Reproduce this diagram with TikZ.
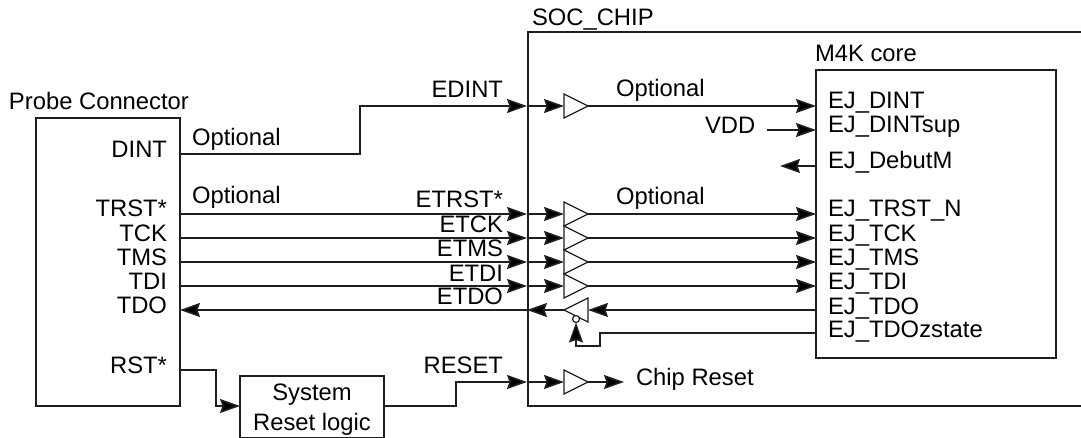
\documentclass[tikz,border=0pt]{standalone}
\usepackage{fontspec}
\setmainfont{Liberation Sans}
\usetikzlibrary{arrows.meta,shapes.geometric,positioning}
\definecolor{ink}{HTML}{1F1F1F}
\tikzset{
  x=1pt,y=-1pt,
  every node/.style={font=\fontsize{23.8}{26}\selectfont,text=black,inner sep=0pt,outer sep=0pt},
  boxed/.style={draw=ink,line width=1.6pt,rectangle,minimum width=#1},
  wire/.style={draw=ink,line width=1.6pt},
  arr/.style={wire,-{Stealth[length=20pt,width=14pt,inset=2.5pt,fill=black]}},
  buf/.style={draw=ink,line width=1.2pt,isosceles triangle,isosceles triangle apex angle=90,isosceles triangle stretches,minimum width=24pt,minimum height=24pt,anchor=lower side,inner sep=0pt,fill=white},
  bufl/.style={buf,shape border rotate=180},
  lab/.style={anchor=base west},
  labr/.style={anchor=base east},
  labc/.style={anchor=base},
}
\begin{document}
\begin{tikzpicture}
\useasboundingbox (0,0) rectangle (1081,438);
\clip (0,0) rectangle (1081,438);
% boxes
\node[boxed=144pt,minimum height=288pt,anchor=north west] (probe) at (36,118) {};
\node[boxed=560pt,minimum height=374pt,anchor=north west] (soc) at (528,32) {};
\node[boxed=240pt,minimum height=288pt,anchor=north west] (core) at (816,70) {};
\node[boxed=144pt,minimum height=62pt,anchor=north west,align=center] (sys) at (240,376) {};
\node[labc] (systxt1) at (312,400) {System};
\node[labc] (systxt2) at (312,430) {Reset logic};
% titles
\node[lab] (tsoc) at (532,26) {SOC\_CHIP};
\node[lab] (tcore) at (815,62) {M4K core};
\node[lab] (tprobe) at (9,110) {Probe Connector};
% probe pins
\foreach \n/\y/\t in {DINT/158/DINT,TRST/217/TRST*,TCK/241.5/TCK,TMS/265.5/TMS,TDI/289/TDI,TDO/313/TDO,RST/373/RST*}
  \node[labr] (l\n) at (167,\y) {\t};
% core pins
\foreach \n/\y/\t in {DINT/109/EJ\_DINT,DINTsup/133/EJ\_DINTsup,Debut/169/EJ\_DebutM,TRST/217/EJ\_TRST\_N,TCK/241.5/EJ\_TCK,TMS/265.5/EJ\_TMS,TDI/290/EJ\_TDI,TDO/314/EJ\_TDO,TDOz/337/EJ\_TDOzstate}
  \node[lab] (c\n) at (828,\y) {\t};
% signal labels
\node[lab] (o1) at (192,146) {Optional};
\node[lab] (o2) at (192,204) {Optional};
\node[lab] (o3) at (616,97) {Optional};
\node[lab] (o4) at (616,205) {Optional};
\node[lab] (vdd) at (705,134) {VDD};
\node[lab] (chip) at (636,385) {Chip Reset};
\node[labr] (nEDINT) at (503,98) {EDINT};
\node[labr] (nETRST) at (503,208) {ETRST*};
\node[labr] (nETCK) at (503,233) {ETCK};
\node[labr] (nETMS) at (503,257) {ETMS};
\node[labr] (nETDI) at (503,282) {ETDI};
\node[labr] (nETDO) at (503,305) {ETDO};
\node[labr] (nRESET) at (503,373) {RESET};
% anchors on the box edges
\foreach \n/\y in {DINT/154,TRST/214,TCK/238,TMS/262,TDI/286,TDO/310,RST/370}
  \coordinate (p\n) at (180,\y);
\foreach \n/\y in {EDINT/106,TRST/214,TCK/238,TMS/262,TDI/286,TDO/310,RESET/382}
  \coordinate (s\n) at (527,\y);
\foreach \n/\y in {DINT/106,DINTsup/130,Debut/166,TRST/214,TCK/238,TMS/262,TDI/286,TDO/310,TDOz/333}
  \coordinate (k\n) at (816,\y);
\coordinate (vddend) at (767,130);
\coordinate (debend) at (780,166);
\coordinate (chipend) at (624,382);
\coordinate (sysin) at (240,406);
\coordinate (sysout) at (384,406);
% connectors outside
\draw[arr] (pDINT) -- (360,154) -- (360,106) -- (sEDINT);
\foreach \n in {TRST,TCK,TMS,TDI} \draw[arr] (p\n) -- (s\n);
\draw[arr] (sTDO) -- (pTDO);
\draw[arr] (pRST) -- (216,370) -- (216,406) -- (sysin);
\draw[arr] (sysout) -- (456,406) -- (456,382) -- (sRESET);
% buffers
\node[buf] (b1) at (564,106) {};
\node[buf] (b2) at (564,214) {};
\node[buf] (b3) at (564,238) {};
\node[buf] (b4) at (564,262) {};
\node[buf] (b5) at (564,286) {};
\node[bufl] (b6) at (588,310) {};
\node[buf] (b7) at (564,382) {};
\node[draw=ink,line width=1.2pt,circle,minimum size=7pt,fill=white] (bub) at (576,319) {};
% connectors inside
\draw[arr] (sEDINT) -- (b1.lower side);
\draw[arr] (b1.apex) -- (kDINT);
\draw[arr] (sTRST) -- (b2.lower side);
\draw[arr] (b2.apex) -- (kTRST);
\draw[arr] (sTCK) -- (b3.lower side);
\draw[arr] (b3.apex) -- (kTCK);
\draw[arr] (sTMS) -- (b4.lower side);
\draw[arr] (b4.apex) -- (kTMS);
\draw[arr] (sTDI) -- (b5.lower side);
\draw[arr] (b5.apex) -- (kTDI);
\draw[arr] (kTDO) -- (b6.lower side);
\draw[arr] (b6.apex) -- (sTDO);
\draw[arr] (kTDOz) -- (600,333) -- (600,346) -- (576,346) -- (bub.south);
\draw[arr] (sRESET) -- (b7.lower side);
\draw[arr] (b7.apex) -- (chipend);
\draw[arr] (vddend) -- (kDINTsup);
\draw[arr] (kDebut) -- (debend);
\end{tikzpicture}
\end{document}
